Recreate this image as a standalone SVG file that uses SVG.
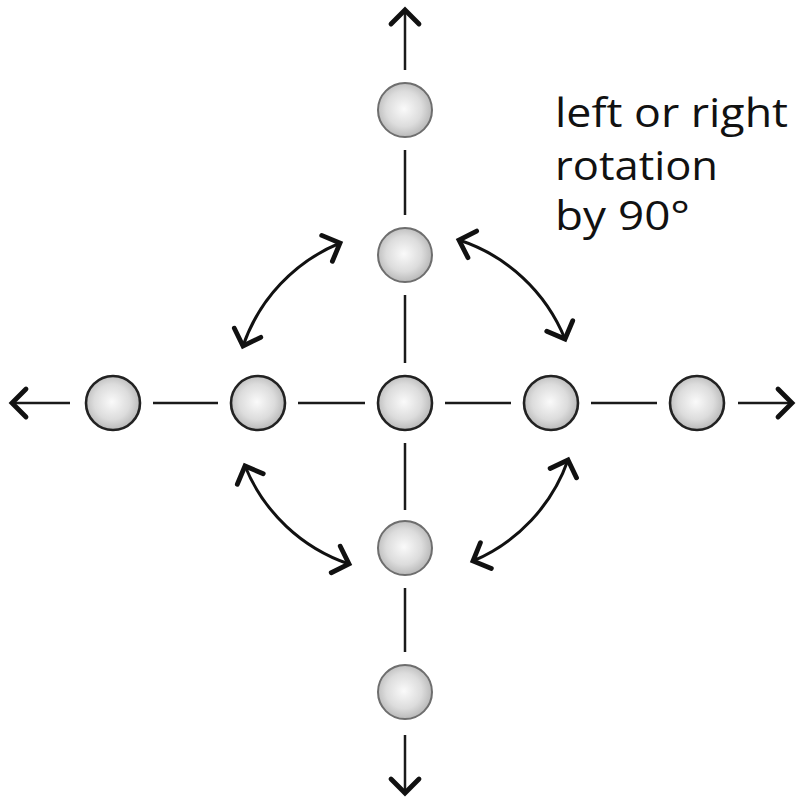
<svg xmlns="http://www.w3.org/2000/svg" width="796" height="801" viewBox="0 0 796 801">
  <defs>
    <radialGradient id="ball" cx="0.48" cy="0.48" r="0.55">
      <stop offset="0" stop-color="#fafafa"/>
      <stop offset="0.6" stop-color="#dcdcdc"/>
      <stop offset="1" stop-color="#b4b4b4"/>
    </radialGradient>
    <marker id="head" markerUnits="userSpaceOnUse" viewBox="-20 -18 26 36" refX="0" refY="0" markerWidth="26" markerHeight="36" orient="auto-start-reverse">
      <path d="M -14 -14 L 0 0 L -14 14" fill="none" stroke="#111" stroke-width="4.8" stroke-linecap="round" stroke-linejoin="miter"/>
    </marker>
  </defs>
  <style>
    .seg { stroke: #1a1a1a; stroke-width: 2.5; fill: none; }
    .arr { stroke: #111; stroke-width: 3; fill: none; }
    .ballh { fill: url(#ball); stroke: #222; stroke-width: 2.6; }
    .ballv { fill: url(#ball); stroke: #6e6e6e; stroke-width: 2; }
    .lbl { font-family: "Open Sans", "DejaVu Sans", sans-serif; font-size: 40px; fill: #111; }
  </style>
  <rect width="796" height="801" fill="#ffffff"/>
  <g id="connectors">
    <line class="seg" x1="405" y1="70" x2="405" y2="10" marker-end="url(#head)"/>
    <line class="seg" x1="405" y1="150" x2="405" y2="215"/>
    <line class="seg" x1="405" y1="295" x2="405" y2="363"/>
    <line class="seg" x1="405" y1="443" x2="405" y2="510"/>
    <line class="seg" x1="405" y1="588" x2="405" y2="652"/>
    <line class="seg" x1="405" y1="735" x2="405" y2="793" marker-end="url(#head)"/>
    <line class="seg" x1="70" y1="403" x2="12" y2="403" marker-end="url(#head)"/>
    <line class="seg" x1="153" y1="403" x2="218" y2="403"/>
    <line class="seg" x1="298" y1="403" x2="365" y2="403"/>
    <line class="seg" x1="445" y1="403" x2="511" y2="403"/>
    <line class="seg" x1="591" y1="403" x2="657" y2="403"/>
    <line class="seg" x1="738" y1="403" x2="792" y2="403" marker-end="url(#head)"/>
    <path class="arr" d="M 243 346 A 172 172 0 0 1 340 243" marker-start="url(#head)" marker-end="url(#head)"/>
    <path class="arr" d="M 459 240 A 172 172 0 0 1 565 339" marker-start="url(#head)" marker-end="url(#head)"/>
    <path class="arr" d="M 568 460 A 172 172 0 0 1 473 561" marker-start="url(#head)" marker-end="url(#head)"/>
    <path class="arr" d="M 349 564 A 172 172 0 0 1 245 466" marker-start="url(#head)" marker-end="url(#head)"/>
  </g>
  <g id="n-top2"><circle class="ballv" cx="405" cy="110" r="27"/></g>
  <g id="n-top1"><circle class="ballv" cx="405" cy="255" r="27"/></g>
  <g id="n-center"><circle class="ballh" cx="405" cy="403" r="27"/></g>
  <g id="n-bottom1"><circle class="ballv" cx="405" cy="548" r="27"/></g>
  <g id="n-bottom2"><circle class="ballv" cx="405" cy="692" r="27"/></g>
  <g id="n-left2"><circle class="ballh" cx="113" cy="403" r="27"/></g>
  <g id="n-left1"><circle class="ballh" cx="258" cy="403" r="27"/></g>
  <g id="n-right1"><circle class="ballh" cx="551" cy="403" r="27"/></g>
  <g id="n-right2"><circle class="ballh" cx="697" cy="403" r="27"/></g>
  <g id="label">
    <text class="lbl" x="555" y="127" textLength="233" lengthAdjust="spacingAndGlyphs">left or right</text>
    <text class="lbl" x="555" y="180" textLength="163" lengthAdjust="spacingAndGlyphs">rotation</text>
    <text class="lbl" x="555" y="230" textLength="135" lengthAdjust="spacingAndGlyphs">by 90°</text>
  </g>
</svg>
